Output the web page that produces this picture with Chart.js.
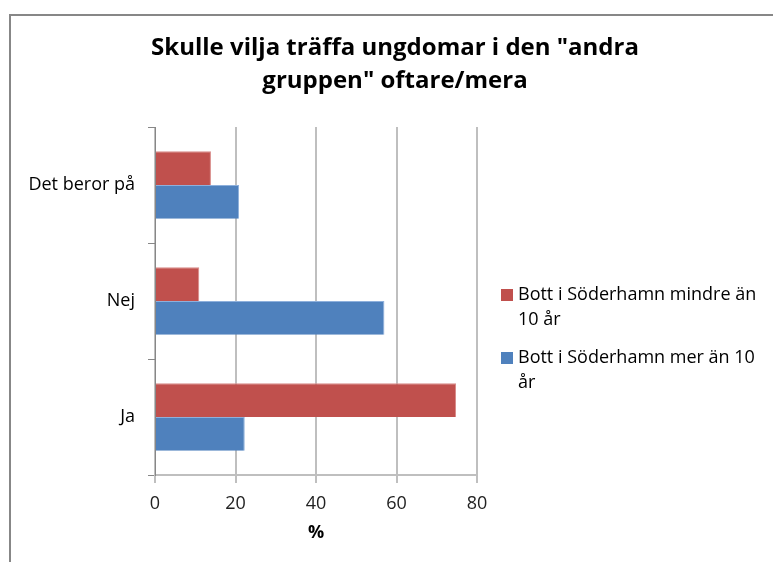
<!DOCTYPE html>
<html>
<head>
<meta charset="utf-8">
<script src="https://cdn.jsdelivr.net/npm/chart.js@4/dist/chart.umd.min.js"></script>
<style>
  html, body { margin: 0; padding: 0; background: #fff; }
  #wrap { width: 774px; height: 562px; position: relative; }
</style>
</head>
<body>
<div id="wrap"><canvas id="chart" width="774" height="562"></canvas></div>
<script>
// Kategorien von oben nach unten
const categories = ["Det beror på", "Nej", "Ja"];
const seriesNames = ["Bott i Söderhamn mindre än 10 år", "Bott i Söderhamn mer än 10 år"];
const lessThan10 = [13.9, 11.0, 74.8];
const moreThan10 = [20.9, 57.0, 22.3];
const xTicks = [0, 20, 40, 60, 80];

const FONT = "'Open Sans', Lato, sans-serif";

// Rahmen oben/links wie im Original
const framePlugin = {
    id: "frame",
    beforeDraw(chart) {
        const ctx = chart.ctx;
        ctx.save();
        ctx.fillStyle = "#fff";
        ctx.fillRect(0, 0, chart.width, chart.height);
        ctx.fillStyle = "#878787";
        ctx.fillRect(9, 14, 2, chart.height - 14);
        ctx.fillRect(9, 14, chart.width - 10, 2);
        ctx.restore();
    },
    // Titel über die ganze Breite zentrieren, nicht nur über die Plotfläche
    afterLayout(chart) {
        const tb = chart.titleBlock;
        if (tb) {
            tb.left = 16;
            tb.right = chart.width;
            tb.width = tb.right - tb.left;
        }
    }
};

// Legende rechts mit Zeilenumbruch
const wrapLegend = {
    id: "wrapLegend",
    afterDraw(chart) {
        const ctx = chart.ctx;
        const maxWidth = 256;
        const lineH = 25;
        let y = 295;
        ctx.save();
        ctx.font = "18px " + FONT;
        ctx.textBaseline = "middle";
        chart.data.datasets.forEach(ds => {
            const words = ds.label.split(" ");
            const lines = [];
            let cur = "";
            words.forEach(w => {
                const test = cur ? cur + " " + w : w;
                if (ctx.measureText(test).width > maxWidth && cur) {
                    lines.push(cur);
                    cur = w;
                } else {
                    cur = test;
                }
            });
            if (cur) lines.push(cur);
            ctx.fillStyle = ds.backgroundColor;
            ctx.fillRect(501, y - 6, 12, 12);
            ctx.fillStyle = "#000";
            lines.forEach((l, i) => ctx.fillText(l, 518, y + i * lineH));
            y += lines.length * lineH + 13;
        });
        ctx.restore();
    }
};

new Chart(document.getElementById("chart").getContext("2d"), {
    type: "bar",
    data: {
        labels: categories,
        datasets: [
            {
                label: seriesNames[0],
                data: lessThan10,
                backgroundColor: "#C0504D",
                borderColor: "#D88A88",
                borderWidth: { top: 1, right: 1, bottom: 0, left: 0 },
                categoryPercentage: 0.58,
                barPercentage: 1
            },
            {
                label: seriesNames[1],
                data: moreThan10,
                backgroundColor: "#4F81BD",
                borderColor: "#8EB0DC",
                borderWidth: { top: 1, right: 1, bottom: 0, left: 0 },
                categoryPercentage: 0.58,
                barPercentage: 1
            }
        ]
    },
    options: {
        indexAxis: "y",
        responsive: false,
        animation: false,
        layout: { padding: { left: 0, right: 297, top: 0, bottom: 0 } },
        plugins: {
            legend: { display: false },
            tooltip: { enabled: false },
            title: {
                display: true,
                text: ['Skulle vilja träffa ungdomar i den "andra', 'gruppen" oftare/mera'],
                color: "#000",
                font: { family: FONT, size: 24, weight: "bold", lineHeight: 33 / 24 },
                padding: { top: 32, bottom: 29 },
                align: "center"
            }
        },
        scales: {
            x: {
                min: 0,
                max: 80,
                afterBuildTicks(scale) {
                    scale.ticks = xTicks.map(v => ({ value: v }));
                },
                afterFit(scale) { scale.height = 87; },
                grid: { color: "#BFBFBF", lineWidth: 2, tickLength: 8 },
                border: { color: "#BFBFBF", width: 2 },
                ticks: { color: "#222", padding: 10, font: { family: FONT, size: 18 } },
                title: {
                    display: true,
                    text: "%",
                    color: "#000",
                    font: { family: FONT, size: 18, weight: "bold" },
                    padding: { top: 4, bottom: 18 }
                }
            },
            y: {
                afterFit(scale) { scale.width = 155; },
                grid: { drawOnChartArea: false, color: "#878787", tickLength: 7, lineWidth: 1 },
                border: { color: "#878787", width: 1 },
                ticks: { color: "#000", padding: 13, font: { family: FONT, size: 18 } }
            }
        }
    },
    plugins: [framePlugin, wrapLegend]
});
</script>
</body>
</html>
